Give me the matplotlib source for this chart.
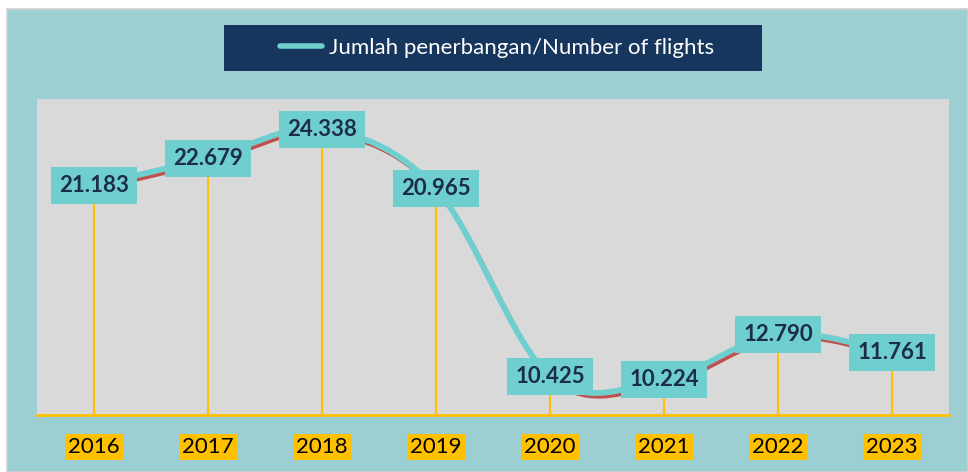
import numpy as np
import matplotlib
matplotlib.use("Agg")
import matplotlib.pyplot as plt
import matplotlib.transforms as mtransforms
from matplotlib.path import Path
from matplotlib.patches import PathPatch, Rectangle
from matplotlib.lines import Line2D

years = ["2016", "2017", "2018", "2019", "2020", "2021", "2022", "2023"]
flights = [21.183, 22.679, 24.338, 20.965, 10.425, 10.224, 12.790, 11.761]
value_labels = ["21.183", "22.679", "24.338", "20.965", "10.425", "10.224", "12.790", "11.761"]
series_name = "Jumlah penerbangan/Number of flights"

TEAL = "#9BCFD2"; PLOT_BG = "#D9D9D9"; CYAN = "#6ECFCE"; RED = "#C0504D"
GOLD = "#FFC000"; NAVY = "#17365D"; LABEL_TXT = "#1C2D4A"
plt.rcParams.update({"font.family": ["Lato", "DejaVu Sans"]})

W, H = 968, 472


def smooth_path(xs, ys):
    # Catmull-Rom style Bezier, like Excel's "smoothed line"
    pts = np.column_stack([xs, ys]).astype(float)
    ext = np.vstack([pts[0], pts, pts[-1]])
    verts = [pts[0]]; codes = [Path.MOVETO]
    for i in range(len(pts) - 1):
        p0, p1, p2, p3 = ext[i], ext[i + 1], ext[i + 2], ext[i + 3]
        verts += [p1 + (p2 - p0) / 6, p2 - (p3 - p1) / 6, p2]
        codes += [Path.CURVE4] * 3
    return Path(verts, codes)


fig = plt.figure(figsize=(W / 100, H / 100), dpi=100)
fig.patch.set_facecolor("white")
fig.patches.append(Rectangle((7 / W, 0), 1 - 7 / W, (H - 9) / H, transform=fig.transFigure,
                             facecolor=TEAL, edgecolor="#D0D0D0", lw=1.2, zorder=-10))

ax = fig.add_axes([37 / W, (H - 415) / H, 912 / W, 316 / H])
ax.set_facecolor(PLOT_BG)
x = np.arange(len(years))
ymin = 8.23
ax.set_xlim(-0.5, len(years) - 0.5)
ax.set_ylim(ymin, 26.03)

ax.vlines(x, ymin, flights, color=GOLD, lw=1.5, zorder=1)

path = smooth_path(x, flights)
shadow = ax.transData + mtransforms.ScaledTranslation(2.5 / 100, -3.5 / 100, fig.dpi_scale_trans)
ax.add_patch(PathPatch(path, facecolor="none", edgecolor=RED, lw=3.0, transform=shadow,
                       capstyle="round", zorder=2))
ax.add_patch(PathPatch(path, facecolor="none", edgecolor=CYAN, lw=4.2, capstyle="round",
                       zorder=3))

for xi, v, s in zip(x, flights, value_labels):
    ax.text(xi, v, s, ha="center", va="center", fontsize=16, fontweight="bold",
            color=LABEL_TXT, zorder=5,
            bbox=dict(boxstyle="square,pad=0.36", facecolor=CYAN, edgecolor="none"))

for s in ["top", "right", "left"]:
    ax.spines[s].set_visible(False)
ax.spines["bottom"].set_color(GOLD)
ax.spines["bottom"].set_linewidth(2)
ax.set_yticks([])
ax.set_xticks(x)
ax.set_xticklabels(years, fontsize=16, color="black")
ax.tick_params(axis="x", length=0, pad=16)
for t in ax.get_xticklabels():
    t.set_bbox(dict(boxstyle="square,pad=0.14", facecolor=GOLD, edgecolor="none"))

# legend box
fig.patches.append(Rectangle((224 / W, 1 - 71 / H), 538 / W, 46 / H, transform=fig.transFigure,
                             facecolor=NAVY, edgecolor="none", zorder=1))
handle = Line2D([], [], color=CYAN, lw=4, solid_capstyle="round")
leg = fig.legend([handle], [series_name], loc="center", bbox_to_anchor=(497 / W, 1 - 48 / H),
                 frameon=False, fontsize=16, handlelength=1.9, handletextpad=0.3, labelcolor="white")

fig.savefig("out.png", dpi=100)
